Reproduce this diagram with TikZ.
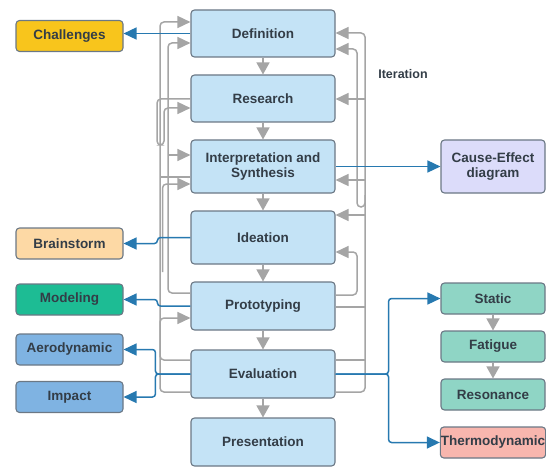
\documentclass[tikz,border=0pt]{standalone}
\usepackage{fontspec}
\setmainfont{Liberation Sans}
\usetikzlibrary{arrows.meta,positioning}

\definecolor{stagefill}{HTML}{C4E3F6}
\definecolor{boxline}{HTML}{6B7885}
\definecolor{txtcol}{HTML}{333D47}
\definecolor{linkblue}{HTML}{2779B0}
\definecolor{loopgray}{HTML}{A5A5A5}
\definecolor{challfill}{HTML}{F8C51C}
\definecolor{brainfill}{HTML}{FDD9A5}
\definecolor{modelfill}{HTML}{1DBC94}
\definecolor{loadfill}{HTML}{7FB3E2}
\definecolor{causefill}{HTML}{DCDCFA}
\definecolor{testfill}{HTML}{8FD5C5}
\definecolor{thermofill}{HTML}{F8B6AE}

\tikzset{
  box/.style={draw=boxline, line width=1.1pt, rounded corners=3.5pt, align=center,
    font=\fontsize{13.5}{15.5}\selectfont\bfseries, text=txtcol, inner sep=0.5pt},
  stage/.style={box, fill=stagefill, minimum width=144pt, minimum height=47pt},
  side/.style={box, minimum width=107pt, minimum height=31pt},
  test/.style={box, minimum width=104pt, minimum height=31pt},
  flow/.style={draw=loopgray, line width=1.5pt, -{Triangle[width=13pt,length=12pt]}},
  loopline/.style={draw=loopgray, line width=1.5pt, rounded corners=4pt},
  loop/.style={loopline, -{Triangle[width=12pt,length=13pt]}},
  link/.style={draw=linkblue, line width=1.5pt, rounded corners=3pt, -{Triangle[width=12pt,length=13pt]}},
}

\begin{document}
\begin{tikzpicture}[x=1pt,y=-1pt]
\useasboundingbox (0,0) rectangle (546,468);

% design stages
\node[stage] (def) at (263,33.5) {Definition};
\node[stage] (res) at (263,98.5) {Research};
\node[stage, minimum height=53pt] (interp) at (263,166.5) {Interpretation and\\Synthesis};
\node[stage, minimum height=53pt] (idea) at (263,237.5) {Ideation};
\node[stage, minimum height=48pt] (proto) at (263,306) {Prototyping};
\node[stage, minimum height=48pt] (eval) at (263,374) {Evaluation};
\node[stage, minimum height=48pt] (pres) at (263,442) {Presentation};

% side boxes
\node[side, fill=challfill] (chall) at (69.5,36) {Challenges};
\node[side, fill=brainfill] (brain) at (69.5,243.5) {Brainstorm};
\node[side, fill=modelfill] (model) at (69.5,299.5) {Modeling};
\node[side, fill=loadfill] (aero) at (69.5,349.5) {Aerodynamic};
\node[side, fill=loadfill] (impact) at (69.5,397) {Impact};

\node[test, minimum height=53pt, fill=causefill] (cause) at (493,166.5) {Cause-Effect\\diagram};
\node[test, fill=testfill] (static) at (493,298.5) {Static};
\node[test, fill=testfill] (fatigue) at (493,346.5) {Fatigue};
\node[test, fill=testfill] (reson) at (493,394.5) {Resonance};
\node[test, fill=thermofill] (thermo) at (493,442.5) {Thermodynamic};

\node[font=\fontsize{12.5}{14}\selectfont\bfseries, text=txtcol] (iter) at (403,74) {Iteration};

% main flow
\draw[flow] (def) -- (res);
\draw[flow] (res) -- (interp);
\draw[flow] (interp) -- (idea);
\draw[flow] (idea) -- (proto);
\draw[flow] (proto) -- (eval);
\draw[flow] (eval) -- (pres);
\draw[flow] (static) -- (fatigue);
\draw[flow] (fatigue) -- (reson);

% iteration loops, left
\draw[loop] (eval.west |- 0,360) -- (160,360) |- (def.west |- 0,22);
\draw[loop] (eval.west |- 0,392) -| (160,330) |- (proto.west |- 0,318);
\draw[loop] (proto.west |- 0,293) -| (168,100) |- (def.west |- 0,43);
\draw[loop] (168,155) -- (interp.west |- 0,155);
\draw[loopline] (interp.west |- 0,177) -- (160,177);
\coordinate (loose) at (162.5,272);
\draw[loop] (loose) |- (interp.west |- 0,184);
\draw[loop] (res.west |- 0,99) -| (157,145) -| (164,120) |- (res.west |- 0,108);

% iteration loops, right
\draw[loop] (eval.east |- 0,392) -| (365,200) |- (def.east |- 0,33);
\draw[loopline] (eval.east |- 0,360) -- (365,360);
\draw[loopline] (proto.east |- 0,307) -- (365,307);
\draw[loop] (365,99) -- (res.east |- 0,99);
\draw[loop] (365,180) -- (interp.east |- 0,180);
\draw[loop] (365,215) -- (idea.east |- 0,215);
\draw[loop] (365,195) -- (365,207) -| (357,120) |- (def.east |- 0,49);
\draw[loop] (proto.east |- 0,295) -| (357,270) |- (idea.east |- 0,252);

% outputs
\draw[link] (def.west) -- (def.west -| chall.east);
\draw[link] (interp.east) -- (cause.west);
\draw[link] (idea.west) -- ++(-33,0) |- (brain.east);
\draw[link] (proto.west) -- ++(-33,0) |- (model.east);
\draw[link] (eval.west) -- ++(-35,0) |- (aero.east);
\draw[link] (eval.west) -- ++(-35,0) |- (impact.east);
\draw[link] (eval.east) -- ++(53,0) |- (static.west);
\draw[link] (eval.east) -- ++(53,0) |- (thermo.west);
\end{tikzpicture}
\end{document}
